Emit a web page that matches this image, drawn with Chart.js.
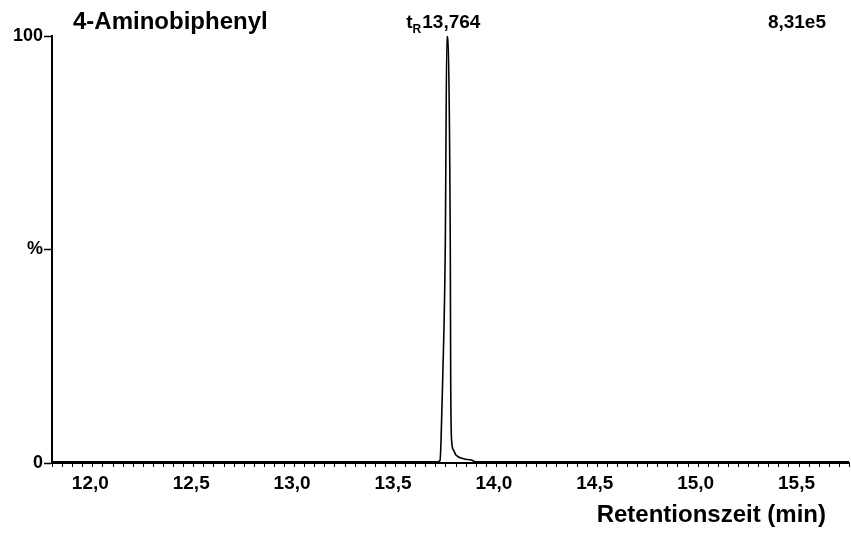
<!DOCTYPE html>
<html>
<head>
<meta charset="utf-8">
<script src="https://cdn.jsdelivr.net/npm/chart.js@4.4.1/dist/chart.umd.min.js"></script>
<style>
  html, body { margin: 0; padding: 0; background: #fff; }
  canvas { display: block; }
</style>
</head>
<body>
<canvas id="chart" width="851" height="533"></canvas>
<script>
// chromatogram (time in min, intensity in %)
const compound = '4-Aminobiphenyl';
const peakTime = 13.764;
const peakText = '13,764';
const maxCounts = '8,31e5';
const xTitle = 'Retentionszeit (min)';

const retentionTimes = [11.81, 12.3, 12.9, 13.4, 13.72, 13.733, 13.738, 13.746, 13.759, 13.767,
  13.784, 13.786, 13.791, 13.8, 13.812, 13.85, 13.887, 13.91, 14.5, 15.2, 15.76];
const intensities = [0.3, 0.3, 0.3, 0.3, 0.3, 0.6, 5, 19, 50, 100,
  50, 19, 5, 3, 1.9, 1.0, 0.7, 0.3, 0.3, 0.3, 0.3];

const xLabelTicks = [12.0, 12.5, 13.0, 13.5, 14.0, 14.5, 15.0, 15.5];
const xLabels = ['12,0', '12,5', '13,0', '13,5', '14,0', '14,5', '15,0', '15,5'];
const yTicks = [0, 50, 100];
const yTickLabels = ['0', '%', '100'];

const points = retentionTimes.map((t, i) => ({ x: t, y: intensities[i] }));

const labelFont = 'Liberation Sans, Arial, sans-serif';

// annotations, x tick marks and x labels
const extras = {
  id: 'extras',
  afterDraw(chart) {
    const ctx = chart.ctx;
    const xs = chart.scales.x;
    const area = chart.chartArea;
    ctx.save();
    ctx.strokeStyle = '#000';
    ctx.lineWidth = 1;
    xs.ticks.forEach(t => {
      const q = t.value * 4;
      const long = Math.abs(q - Math.round(q)) < 1e-6;
      const x = Math.round(xs.getPixelForValue(t.value)) + 0.5;
      ctx.beginPath();
      ctx.moveTo(x, area.bottom);
      ctx.lineTo(x, area.bottom + (long ? 8 : 4));
      ctx.stroke();
    });

    ctx.fillStyle = '#000';
    ctx.textBaseline = 'alphabetic';
    ctx.textAlign = 'center';
    ctx.font = 'bold 19px ' + labelFont;
    xLabelTicks.forEach((v, i) => {
      ctx.fillText(xLabels[i], xs.getPixelForValue(v), 489);
    });

    ctx.textAlign = 'left';
    ctx.font = 'bold 24px ' + labelFont;
    ctx.fillText(compound, 73, 29);

    ctx.textAlign = 'right';
    ctx.font = 'bold 19px ' + labelFont;
    ctx.fillText(maxCounts, 826, 28);

    // peak label t_R
    const px = xs.getPixelForValue(peakTime);
    ctx.textAlign = 'left';
    ctx.font = 'bold 19px ' + labelFont;
    let lx = px - 40;
    ctx.fillText('t', lx, 28);
    lx += ctx.measureText('t').width;
    ctx.font = 'bold 12px ' + labelFont;
    ctx.fillText('R', lx, 33);
    lx += ctx.measureText('R').width + 1;
    ctx.font = 'bold 19px ' + labelFont;
    ctx.fillText(peakText, lx, 28);

    ctx.textAlign = 'right';
    ctx.font = 'bold 24px ' + labelFont;
    ctx.fillText(xTitle, 826, 522);
    ctx.restore();
  }
};

new Chart(document.getElementById('chart').getContext('2d'), {
  type: 'line',
  data: {
    datasets: [{
      data: points,
      borderColor: '#000',
      borderWidth: 1.6,
      pointRadius: 0,
      fill: false,
      cubicInterpolationMode: 'monotone'
    }]
  },
  options: {
    responsive: false,
    animation: false,
    layout: { padding: { top: 36, right: 2, left: 0, bottom: 0 } },
    plugins: { legend: { display: false }, tooltip: { enabled: false } },
    scales: {
      x: {
        type: 'linear',
        min: 11.81,
        max: 15.76,
        afterFit: s => { s.height = 70; s.paddingLeft = 0; s.paddingRight = 0; },
        grid: { drawOnChartArea: false, drawTicks: false },
        border: { display: true, color: '#000', width: 2 },
        ticks: {
          display: false,
          stepSize: 0.05,
          includeBounds: false,
          autoSkip: false,
          maxRotation: 0
        }
      },
      y: {
        min: 0,
        max: 100,
        afterFit: s => { s.width = 52; s.paddingTop = 0; s.paddingBottom = 0; },
        afterBuildTicks: s => { s.ticks = yTicks.map(v => ({ value: v })); },
        grid: { drawOnChartArea: false, drawTicks: true, tickLength: 8, tickColor: '#000', tickWidth: 1.5 },
        border: { display: true, color: '#000', width: 2 },
        ticks: {
          padding: 1,
          color: '#000',
          font: { family: labelFont, size: 18, weight: 'bold' },
          callback: v => yTickLabels[yTicks.indexOf(v)]
        }
      }
    }
  },
  plugins: [extras]
});
</script>
</body>
</html>
